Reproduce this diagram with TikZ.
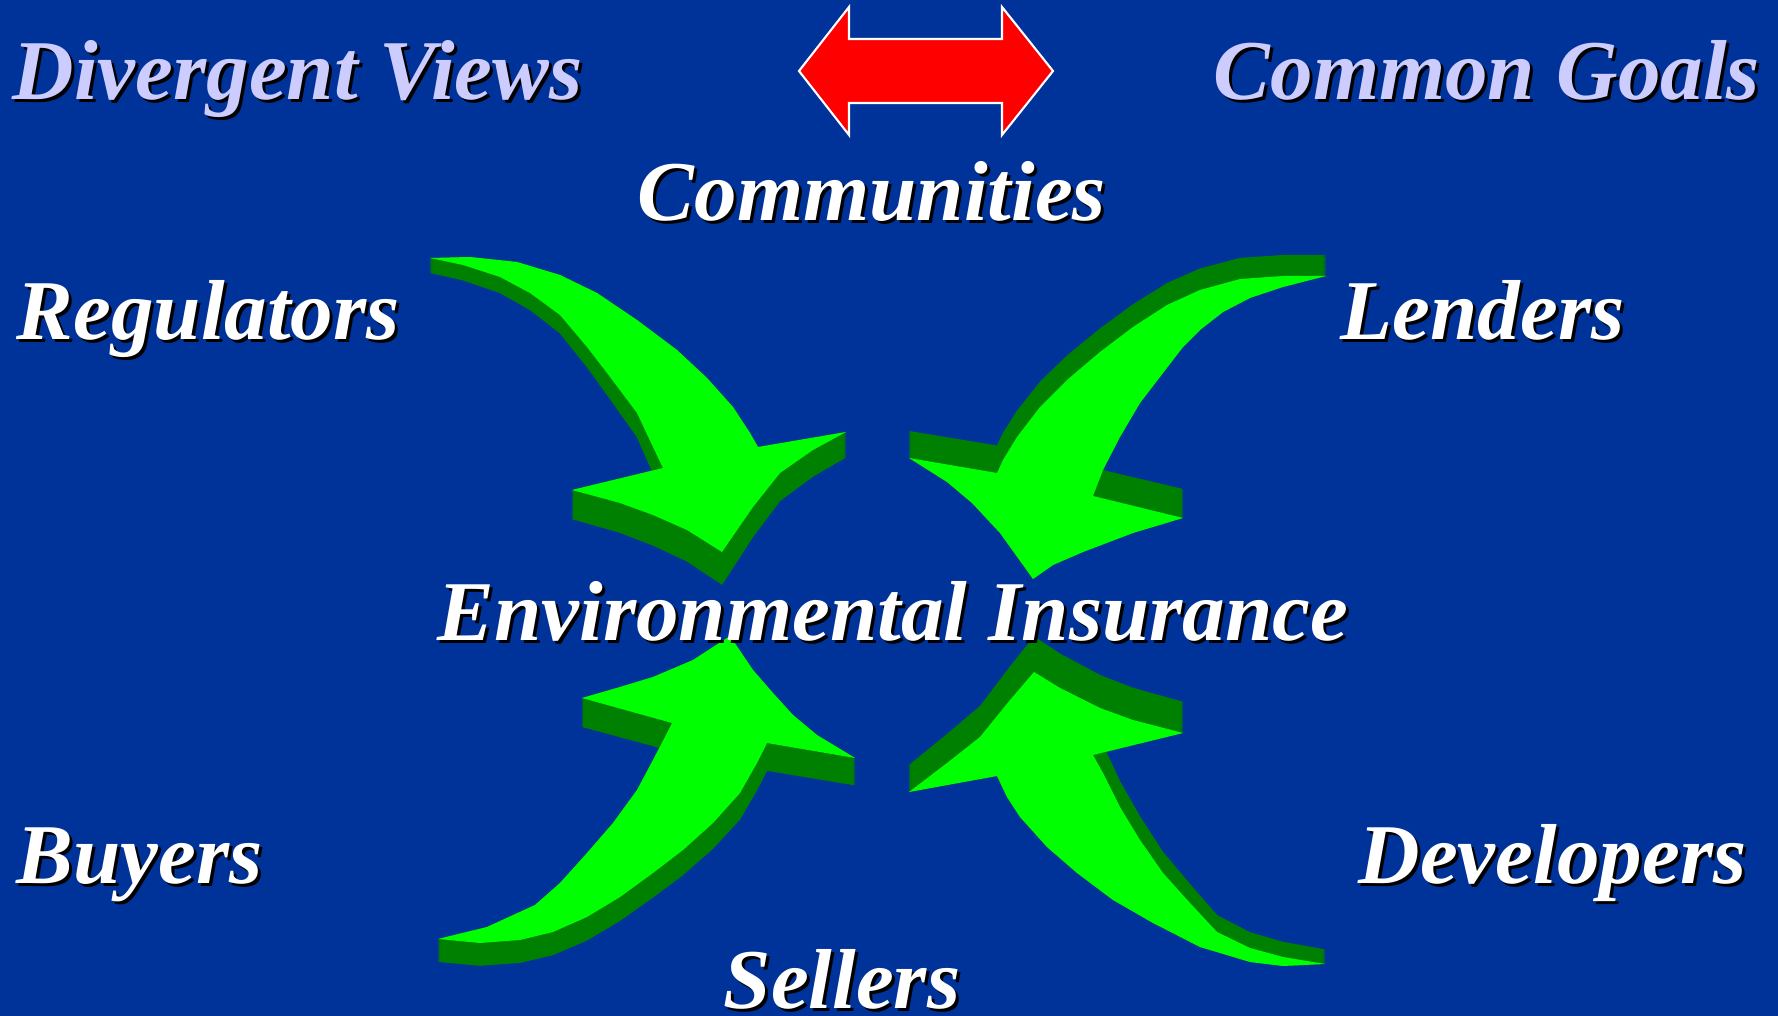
\documentclass[tikz,border=0pt]{standalone}
\usepackage{fontspec}
\setmainfont{Liberation Serif}
\definecolor{slideblue}{RGB}{0,51,153}
\definecolor{lavender}{RGB}{204,204,255}
\definecolor{litegreen}{RGB}{0,255,0}
\definecolor{darkgreen}{RGB}{0,128,0}
\newcommand{\shadowed}[1]{\makebox[0pt][l]{\hspace{0.03cm}\raisebox{-0.03cm}{\color{black}#1}}#1}
\tikzset{
  label text/.style={anchor=base west, inner sep=0pt, text=white, font=\fontsize{24.2}{29}\selectfont\bfseries\itshape},
  title text/.style={label text, text=lavender}
}
% outlines of the four curved arrows (front face)
\def\arrowNW{(430,258) -- (470,257) -- (517,262) -- (560,275) -- (597,293) -- (637,320) -- (677,350) -- (707,378) -- (733,407) -- (750,433) -- (758,447) -- (846,432) -- (813,450) -- (780,473) -- (753,507) -- (722,552) -- (687,530) -- (653,515) -- (620,503) -- (572,490) -- (663,468) -- (653,447) -- (637,413) -- (607,373) -- (587,347) -- (560,315) -- (530,293) -- (500,277) -- (463,265) -- cycle}
\def\arrowNE{(1326,276) -- (1283,276) -- (1240,279) -- (1200,290) -- (1167,305) -- (1133,327) -- (1100,352) -- (1067,380) -- (1040,407) -- (1017,437) -- (1003,460) -- (997,473) -- (909,458) -- (947,482) -- (972,503) -- (1000,533) -- (1033,579) -- (1053,565) -- (1083,552) -- (1133,533) -- (1183,518) -- (1093,496) -- (1103,470) -- (1120,437) -- (1140,403) -- (1163,373) -- (1183,347) -- (1200,330) -- (1223,312) -- (1250,298) -- (1283,287) -- cycle}
\def\arrowSW{(438,939) -- (487,927) -- (535,905) -- (560,883) -- (587,853) -- (613,823) -- (637,790) -- (653,760) -- (667,733) -- (672,723) -- (582,698) -- (620,687) -- (653,677) -- (693,660) -- (730,636) -- (753,670) -- (773,693) -- (793,715) -- (817,735) -- (855,758) -- (767,743) -- (757,763) -- (740,793) -- (713,823) -- (683,850) -- (653,873) -- (620,897) -- (587,917) -- (553,932) -- (520,940) -- (480,943) -- cycle}
\def\arrowSE{(1034,672) -- (1010,700) -- (980,737) -- (947,763) -- (909,792) -- (997,776) -- (1007,797) -- (1020,817) -- (1047,847) -- (1077,873) -- (1113,900) -- (1153,923) -- (1200,947) -- (1250,962) -- (1283,966) -- (1325,964) -- (1283,957) -- (1250,948) -- (1217,932) -- (1190,903) -- (1163,873) -- (1140,840) -- (1120,807) -- (1103,773) -- (1093,755) -- (1183,733) -- (1133,720) -- (1100,708) -- (1060,688) -- cycle}

\begin{document}
\begin{tikzpicture}[x=0.01cm,y=-0.01cm]
	\fill[slideblue] (0,0) rectangle (1778,1016);
	\useasboundingbox (0,0) rectangle (1778,1016);
	% red double arrow
	\draw[white,fill=red,line width=0.6pt] (799,71) -- (849,7) -- (849,39) -- (1002,39) -- (1002,7) -- (1053,71) -- (1002,135) -- (1002,103) -- (849,103) -- (849,135) -- cycle;
	% sides of the green arrows, then the faces
	\foreach \k in {0,...,40} {
		\fill[darkgreen,yshift={\k*0.0002cm},yscale={1+\k*0.001525}] \arrowNW;
		\fill[darkgreen,yshift={\k*0.002975cm},yscale={1-\k*0.000825}] \arrowNE;
		\fill[darkgreen,yshift={-\k*0.0116cm},yscale={1-\k*0.000625}] \arrowSW;
		\fill[darkgreen,yshift={\k*0.021cm},yscale={1+\k*0.0018}] \arrowSE;
	}
	\fill[litegreen] \arrowNW;
	\fill[litegreen] \arrowNE;
	\fill[litegreen] \arrowSW;
	\fill[litegreen] \arrowSE;
	% texts
	\node[title text] (divergent) at (12,100) {\shadowed{Divergent Views}};
	\node[title text] (common) at (1213,100) {\shadowed{Common Goals}};
	\node[label text] (communities) at (637,221) {\shadowed{Communities}};
	\node[label text] (regulators) at (16,340) {\shadowed{Regulators}};
	\node[label text] (lenders) at (1340,340) {\shadowed{Lenders}};
	\node[label text] (insurance) at (437,641) {\shadowed{Environmental Insurance}};
	\node[label text] (buyers) at (16,884) {\shadowed{Buyers}};
	\node[label text] (developers) at (1358,884) {\shadowed{Developers}};
	\node[label text] (sellers) at (723,1009) {\shadowed{Sellers}};
\end{tikzpicture}
\end{document}
